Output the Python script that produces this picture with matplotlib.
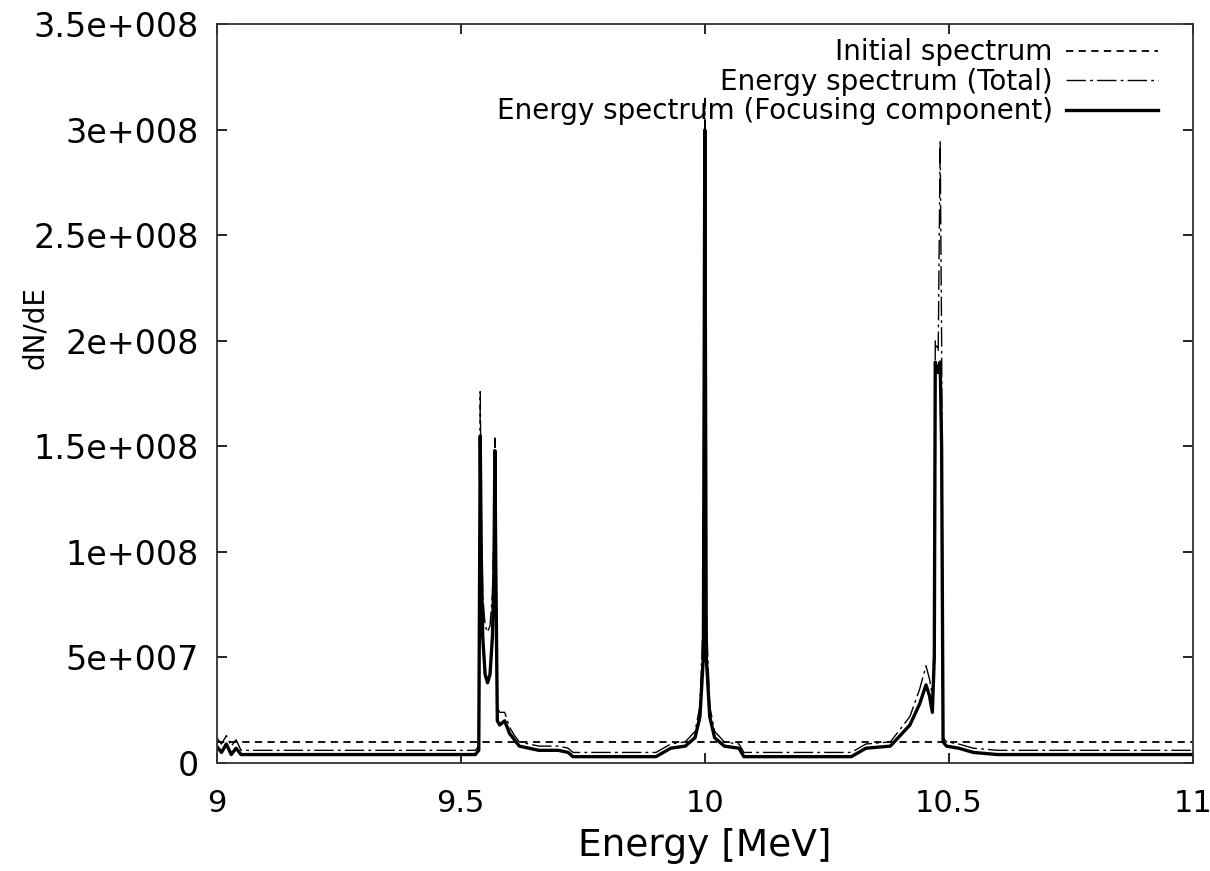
import numpy as np
import matplotlib
import matplotlib.pyplot as plt

matplotlib.use('Agg')

# energy grid [MeV] shared by the two computed spectra
energy = [9.00, 9.01, 9.02, 9.03, 9.04, 9.05, 9.10, 9.20, 9.30, 9.40,
          9.50, 9.530, 9.537, 9.540, 9.542, 9.545, 9.550, 9.555, 9.560, 9.565,
          9.568, 9.570, 9.572, 9.575, 9.580, 9.590, 9.600, 9.610, 9.620, 9.640,
          9.660, 9.700, 9.720, 9.730, 9.800, 9.900, 9.930, 9.960, 9.980, 9.990,
          9.997, 10.000, 10.003, 10.010, 10.020, 10.040, 10.070, 10.080, 10.200, 10.300,
          10.330, 10.380, 10.400, 10.420, 10.440, 10.453, 10.460, 10.466, 10.470, 10.472,
          10.478, 10.482, 10.485, 10.488, 10.495, 10.520, 10.550, 10.600, 10.800, 11.000]

total = [1.2e7, 9e6, 1.3e7, 8e6, 1.1e7, 6e6, 6e6, 6e6, 6e6, 6e6,
         6e6, 6e6, 8e6, 1.76e8, 1.2e8, 8e7, 6.5e7, 6.2e7, 6.5e7, 8e7,
         1.1e8, 1.54e8, 1.1e8, 2.6e7, 2.4e7, 2.4e7, 1.7e7, 1.3e7, 1e7, 9e6,
         8e6, 8e6, 7e6, 5e6, 5e6, 5e6, 9e6, 1e7, 1.5e7, 2.7e7,
         7e7, 3.15e8, 7e7, 2.7e7, 1.5e7, 1e7, 9e6, 5e6, 5e6, 5e6,
         9e6, 1e7, 1.6e7, 2.2e7, 3.5e7, 4.6e7, 4e7, 3.2e7, 6e7, 2e8,
         1.95e8, 2.95e8, 2e8, 1.2e7, 1e7, 9e6, 7e6, 6e6, 6e6, 6e6]

focusing = [8e6, 5e6, 9e6, 4e6, 7e6, 4e6, 4e6, 4e6, 4e6, 4e6,
            4e6, 4e6, 6e6, 1.55e8, 1e8, 6e7, 4.2e7, 3.8e7, 4.2e7, 6e7,
            9e7, 1.48e8, 9e7, 2e7, 1.8e7, 2e7, 1.4e7, 1.1e7, 8e6, 7e6,
            6e6, 6e6, 5e6, 3e6, 3e6, 3e6, 7e6, 8e6, 1.2e7, 2.2e7,
            5e7, 3e8, 5e7, 2.2e7, 1.2e7, 8e6, 7e6, 3e6, 3e6, 3e6,
            7e6, 8e6, 1.3e7, 1.8e7, 2.8e7, 3.7e7, 3.2e7, 2.4e7, 5e7, 1.9e8,
            1.85e8, 1.9e8, 1.5e8, 1e7, 8e6, 7e6, 5e6, 4e6, 4e6, 4e6]

initial_energy = [9.0, 11.0]
initial = [1e7, 1e7]

x_ticks = [9, 9.5, 10, 10.5, 11]
x_tick_labels = ["9", "9.5", "10", "10.5", "11"]
y_ticks = [0, 5e7, 1e8, 1.5e8, 2e8, 2.5e8, 3e8, 3.5e8]
y_tick_labels = ["0", "5e+007", "1e+008", "1.5e+008", "2e+008",
                 "2.5e+008", "3e+008", "3.5e+008"]

assert len(energy) == len(total) == len(focusing)

plt.rcParams['font.family'] = ['DejaVu Sans']

fig = plt.figure(figsize=(12.1, 8.71), dpi=100)
ax = fig.add_axes([0.179, 0.124, 0.807, 0.848])

ax.plot(initial_energy, initial, color="black", linewidth=1.3,
        dashes=(4, 3), label="Initial spectrum")
ax.plot(energy, total, color="black", linewidth=1.0,
        dashes=(14, 3, 2, 3), label="Energy spectrum (Total)")
ax.plot(energy, focusing, color="black", linewidth=2.4,
        label="Energy spectrum (Focusing component)")

ax.set_xlim(9, 11)
ax.set_ylim(0, 3.5e8)
ax.set_xticks(x_ticks)
ax.set_xticklabels(x_tick_labels)
ax.set_yticks(y_ticks)
ax.set_yticklabels(y_tick_labels)
ax.tick_params(direction="in", length=7, width=1.2, top=True, right=True)
ax.tick_params(axis="x", pad=19, labelsize=22)
ax.tick_params(axis="y", pad=13, labelsize=24)
for spine in ax.spines.values():
    spine.set_linewidth(1.3)
    spine.set_color("#333333")

ax.set_xlabel("Energy [MeV]", fontsize=27)
ax.xaxis.set_label_coords(0.5, -0.088)
ax.set_ylabel("dN/dE", fontsize=20)
ax.yaxis.set_label_coords(-0.172, 0.59)

ax.legend(loc="upper right", bbox_to_anchor=(0.975, 0.996), borderaxespad=0,
          frameon=False, markerfirst=False,
          handlelength=3.3, handletextpad=0.47, labelspacing=0.05,
          fontsize=20)

fig.savefig("out.png", dpi=100)
